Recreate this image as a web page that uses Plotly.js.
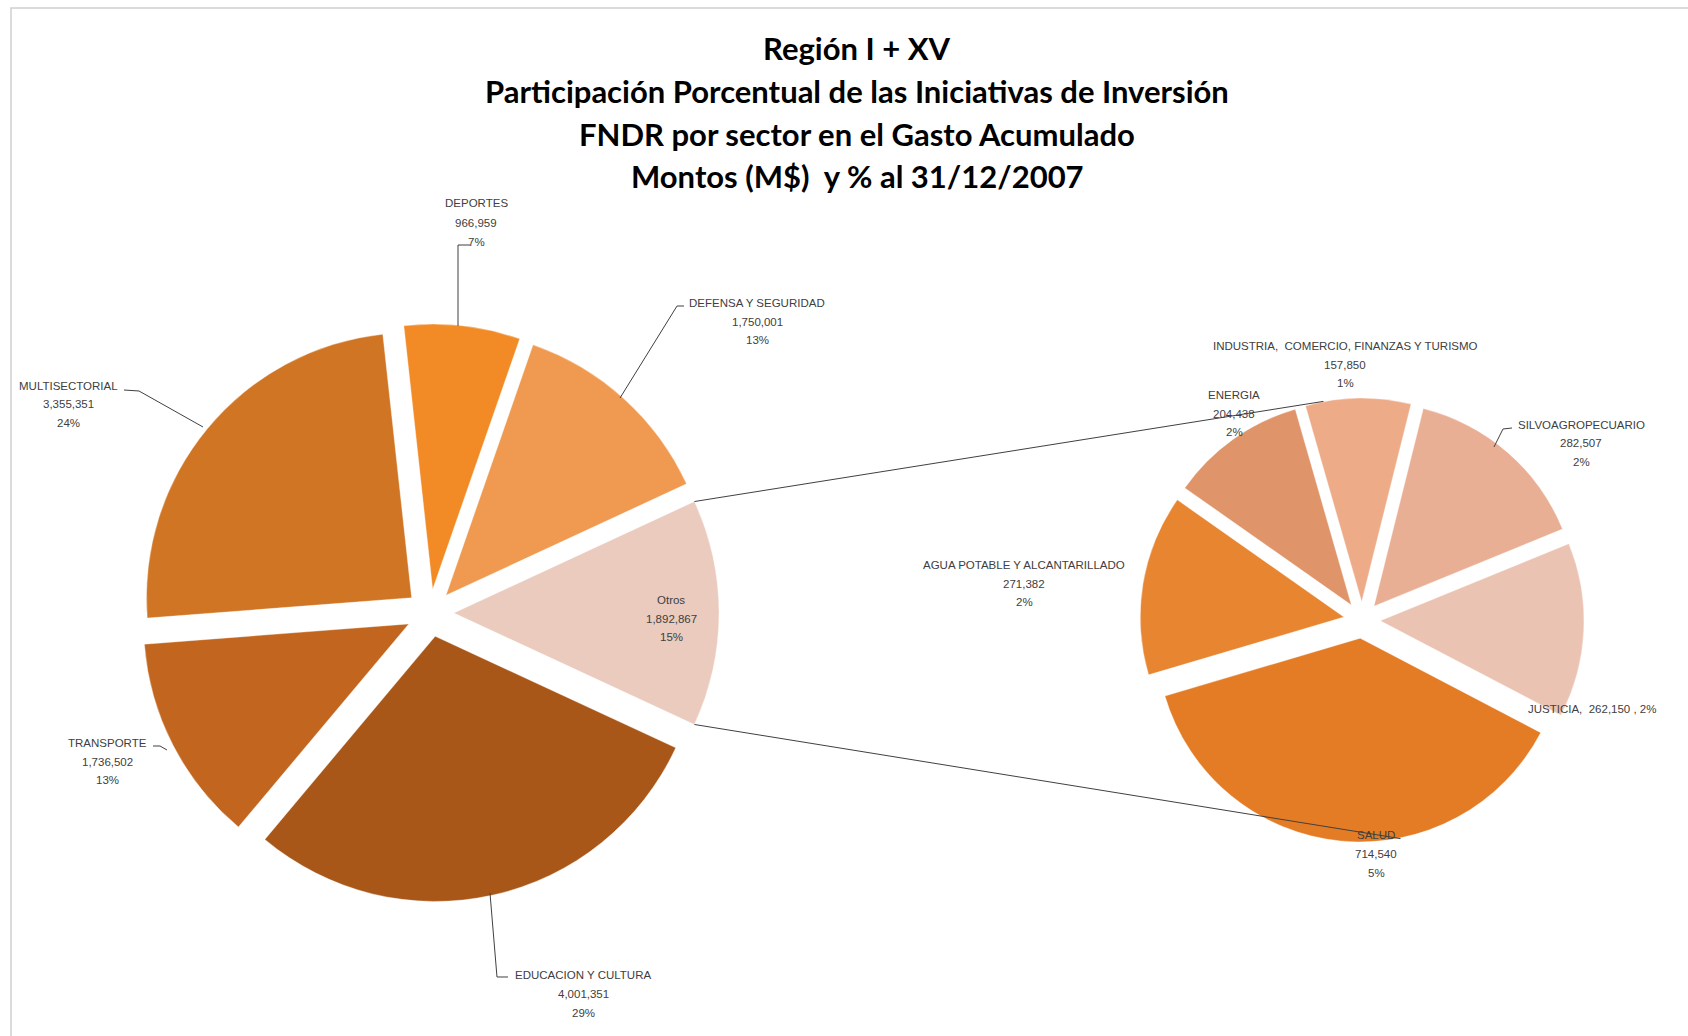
<!DOCTYPE html>
<html>
<head>
<meta charset="utf-8">
<script src="https://cdn.plot.ly/plotly-3.0.1.min.js"></script>
<style>html,body{margin:0;padding:0;background:#fff;}#chart{width:1688px;height:1036px;}</style>
</head>
<body>
<div id="chart"></div>
<script>
// ---- Data ----
const titleLines = [
  'Región I + XV',
  'Participación Porcentual de las Iniciativas de Inversión',
  'FNDR por sector en el Gasto Acumulado',
  'Montos (M$)  y % al 31/12/2007'
];
const mainLabels = ['Otros', 'EDUCACION Y CULTURA', 'TRANSPORTE', 'MULTISECTORIAL', 'DEPORTES', 'DEFENSA Y SEGURIDAD'];
const mainValues = [1892867, 4001351, 1736502, 3355351, 966959, 1750001];
const mainPct    = ['15%', '29%', '13%', '24%', '7%', '13%'];
const mainColors = ['#EACBBE', '#A85718', '#C2661F', '#D07524', '#F28A26', '#EF9A50'];

const subLabels = ['INDUSTRIA,  COMERCIO, FINANZAS Y TURISMO', 'SILVOAGROPECUARIO', 'JUSTICIA', 'SALUD', 'AGUA POTABLE Y ALCANTARILLADO', 'ENERGIA'];
const subValues = [157850, 282507, 262150, 714540, 271382, 204438];
const subPct    = ['1%', '2%', '2%', '5%', '2%', '2%'];
const subColors = ['#EEAB88', '#E9AF94', '#EBC3B2', '#E47C26', '#E88530', '#E0946A'];

// ---- Layout geometry ----
const W = 1688, H = 1036;
const X = px => px / W;
const Y = py => 1 - py / H;

const main = {cx: 430, cy: 613, half: 289, pull: 0.09};
const sub  = {cx: 1362, cy: 620, half: 222, pull: 0.09};

const mainTotal = mainValues.reduce((a, b) => a + b, 0);
const otrosFrac = mainValues[0] / mainTotal;
const mainRotation = 90 - 180 * otrosFrac;   // "Otros" slice centred at 3 o'clock
const subRotation = -16;

const fmt = v => v.toLocaleString('en-US');

const traces = [
  {
    type: 'pie', sort: false, direction: 'clockwise', rotation: mainRotation,
    labels: mainLabels, values: mainValues,
    marker: {colors: mainColors, line: {color: 'rgba(255,255,255,0.35)', width: 1}},
    pull: mainValues.map(() => main.pull),
    textinfo: 'none', hoverinfo: 'label+value+percent', showlegend: false,
    domain: {x: [X(main.cx - main.half), X(main.cx + main.half)], y: [Y(main.cy + main.half), Y(main.cy - main.half)]}
  },
  {
    type: 'pie', sort: false, direction: 'clockwise', rotation: subRotation,
    labels: subLabels, values: subValues,
    marker: {colors: subColors, line: {color: 'rgba(255,255,255,0.35)', width: 1}},
    pull: subValues.map(() => sub.pull),
    textinfo: 'none', hoverinfo: 'label+value', showlegend: false,
    domain: {x: [X(sub.cx - sub.half), X(sub.cx + sub.half)], y: [Y(sub.cy + sub.half), Y(sub.cy - sub.half)]}
  }
];

// ---- Text annotations ----
const annotations = [];
titleLines.forEach((t, i) => {
  annotations.push({
    text: t, x: X(857), y: Y([48, 91.5, 134.5, 175.5][i]), xref: 'paper', yref: 'paper',
    xanchor: 'center', yanchor: 'middle', showarrow: false,
    font: {family: 'Lato, sans-serif', size: 31, color: '#000000', weight: 'bold'}
  });
});

const labFont = {family: 'Liberation Sans, Arial, sans-serif', size: 11.5, color: '#404040'};
function addLabel(lines, cx, y0, dy) {
  lines.forEach((t, i) => {
    annotations.push({
      text: t, x: X(cx), y: Y(y0 + i * dy), xref: 'paper', yref: 'paper',
      xanchor: 'center', yanchor: 'middle', showarrow: false, font: labFont
    });
  });
}
// label block positions (pixels): [centre x, first line y, line step]
const mainLabelPos = {
  'Otros': [671, 600, 18.5],
  'EDUCACION Y CULTURA': [583, 975, 19],
  'TRANSPORTE': [108, 743, 18.5],
  'MULTISECTORIAL': [68, 386, 18.5],
  'DEPORTES': [476, 203, 19.5],
  'DEFENSA Y SEGURIDAD': [757, 303, 18.5]
};
mainLabels.forEach((name, i) => {
  const p = mainLabelPos[name];
  addLabel([name, fmt(mainValues[i]), mainPct[i]], p[0], p[1], p[2]);
});
const subLabelPos = {
  'INDUSTRIA,  COMERCIO, FINANZAS Y TURISMO': [1345, 346, 18.5],
  'SILVOAGROPECUARIO': [1581, 425, 18.5],
  'SALUD': [1376, 835, 19],
  'AGUA POTABLE Y ALCANTARILLADO': [1024, 565, 18.5],
  'ENERGIA': [1234, 395, 18.5]
};
subLabels.forEach((name, i) => {
  if (name === 'JUSTICIA') {
    annotations.push({
      text: name + ',  ' + fmt(subValues[i]) + ' , ' + subPct[i], x: X(1592), y: Y(709),
      xref: 'paper', yref: 'paper', xanchor: 'center', yanchor: 'middle', showarrow: false, font: labFont
    });
  } else {
    const p = subLabelPos[name];
    addLabel([name, fmt(subValues[i]), subPct[i]], p[0], p[1], p[2]);
  }
});

// ---- Shapes: border, leader lines, series lines ----
const path = pts => 'M ' + pts.map(p => X(p[0]).toFixed(5) + ' ' + Y(p[1]).toFixed(5)).join(' L ');
const lineStyle = {color: '#404040', width: 1};
const shapes = [
  {type: 'rect', xref: 'paper', yref: 'paper', x0: X(11), y0: Y(8), x1: X(1720), y1: Y(1060),
   line: {color: '#cfcfcf', width: 1.5}, fillcolor: 'rgba(0,0,0,0)', layer: 'below'}
];
const leaders = [
  [[470, 245], [458, 245], [458, 326]],
  [[684, 306], [677, 306], [620, 398]],
  [[124, 390], [139, 391], [203, 427]],
  [[153, 746], [160, 746], [167, 750]],
  [[490, 893], [497, 977], [508, 977]],
  [[1512, 428], [1503, 429], [1494, 447]]
];
leaders.forEach(pts => shapes.push({type: 'path', xref: 'paper', yref: 'paper', path: path(pts), line: lineStyle}));

// series lines from "Otros" slice corners to the second pie
const r1 = main.half / (1 + main.pull);
const deg = Math.PI / 180;
const oStart = mainRotation * deg, oEnd = (mainRotation + 360 * otrosFrac) * deg, oMid = (oStart + oEnd) / 2;
const ocx = main.cx + main.pull * r1 * Math.sin(oMid), ocy = main.cy - main.pull * r1 * Math.cos(oMid);
const cTop = [ocx + r1 * Math.sin(oStart), ocy - r1 * Math.cos(oStart)];
const cBot = [ocx + r1 * Math.sin(oEnd), ocy - r1 * Math.cos(oEnd)];
const sTop = [sub.cx + sub.half * Math.sin(-10 * deg), sub.cy - sub.half * Math.cos(-10 * deg)];
const sBot = [sub.cx + sub.half * Math.sin(170 * deg), sub.cy - sub.half * Math.cos(170 * deg)];
shapes.push({type: 'path', xref: 'paper', yref: 'paper', path: path([cTop, sTop]), line: lineStyle});
shapes.push({type: 'path', xref: 'paper', yref: 'paper', path: path([cBot, sBot]), line: lineStyle});

const layout = {
  width: W, height: H,
  margin: {l: 0, r: 0, t: 0, b: 0},
  paper_bgcolor: '#ffffff', plot_bgcolor: '#ffffff',
  showlegend: false,
  annotations: annotations,
  shapes: shapes
};

Plotly.newPlot('chart', traces, layout, {displayModeBar: false, staticPlot: true});
</script>
</body>
</html>
